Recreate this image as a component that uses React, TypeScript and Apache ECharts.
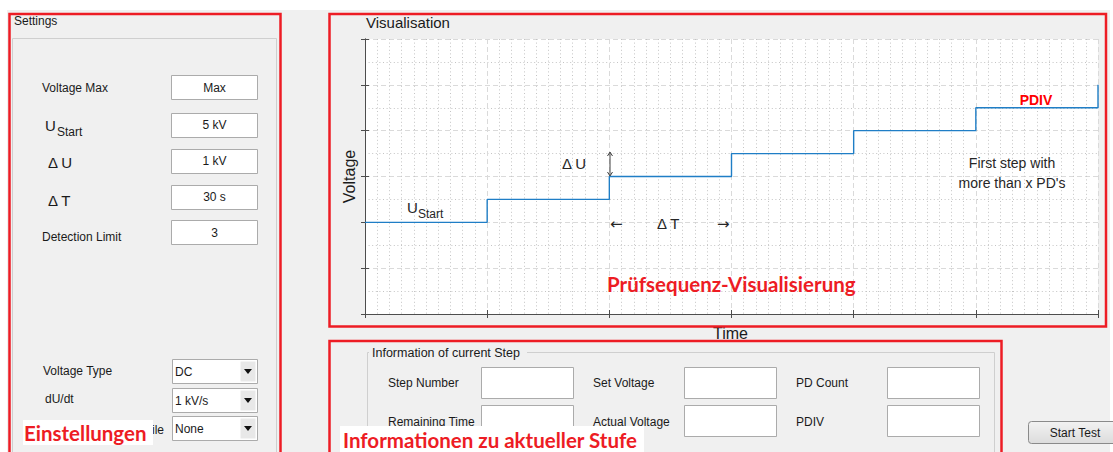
import React, { useEffect, useRef } from "react";
import * as echarts from "echarts";

// ---- data ----
const stepTimes = [0, 1, 2, 3, 4, 5, 6];
const stepLevels = [2, 2.5, 3, 3.5, 4, 4.5, 5];
const axisMin = 0;
const axisMax = 6;
const axisInterval = 1;

const settingsLabels = ["Voltage Max", "U", "Δ U", "Δ T", "Detection Limit"];
const settingsValues = ["Max", "5 kV", "1 kV", "30 s", "3"];
const dropdownLabels = ["Voltage Type", "dU/dt", "ile"];
const dropdownValues = ["DC", "1 kV/s", "None"];
const infoLabelsRow1 = ["Step Number", "Set Voltage", "PD Count"];
const infoLabelsRow2 = ["Remaining Time", "Actual Voltage", "PDIV"];

const RED = "#ed1c24";
const UI_FONT = "'Liberation Sans', Arial, sans-serif";
const RED_FONT = "bold 20.5px Lato, 'Open Sans', sans-serif";
const TXT = "#1a1a1a";

function txt(x: number, y: number, text: string, font: string, extra: any = {}) {
  return {
    type: "text",
    x,
    y,
    z: 50,
    style: {
      text,
      font,
      fill: extra.fill || TXT,
      align: extra.align || "left",
      verticalAlign: "middle",
    },
  };
}

function box(x: number, y: number, w: number, h: number, extra: any = {}) {
  return {
    type: "rect",
    z: extra.z ?? 40,
    shape: { x, y, width: w, height: h, r: extra.r || 0 },
    style: {
      fill: extra.fill ?? "#ffffff",
      stroke: extra.stroke ?? "#ababab",
      lineWidth: extra.lineWidth ?? 1,
    },
  };
}

function buildGraphics() {
  const els: any[] = [];
  const f12 = `12px ${UI_FONT}`;

  // ---------- left settings panel ----------
  els.push(txt(14, 21, "Settings", f12));
  els.push(box(12.5, 38.5, 264, 430, { fill: "none", stroke: "#cfcfcf", z: 30 }));
  const rowY = [87.5, 125, 161, 197, 232.5];
  const boxTop = [75, 113, 149, 185, 220];
  els.push(txt(42, rowY[0], settingsLabels[0], f12));
  els.push(txt(45, 125, settingsLabels[1], `15px ${UI_FONT}`));
  els.push(txt(57, 132, "Start", f12));
  els.push(txt(48, 162.5, settingsLabels[2], `15px ${UI_FONT}`));
  els.push(txt(48, 200, settingsLabels[3], `15px ${UI_FONT}`));
  els.push(txt(42, 237, settingsLabels[4], f12));
  settingsValues.forEach((v, i) => {
    els.push(box(171.5, boxTop[i] + 0.5, 86, 24));
    els.push(txt(214.5, rowY[i], v, f12, { align: "center" }));
  });

  // dropdowns
  const ddTop = [359, 388, 416];
  const ddLabelY = [370.5, 399, 430];
  dropdownLabels.forEach((l, i) => {
    if (i < 2) els.push(txt(i === 0 ? 43 : 45, ddLabelY[i], l, f12));
    else els.push(txt(164, ddLabelY[i], l, f12, { align: "right" }));
  });
  dropdownValues.forEach((v, i) => {
    const t = ddTop[i];
    els.push(box(172.5, t + 0.5, 85, 24));
    els.push(box(240.5, t + 2.5, 15, 20, { fill: "#e8e8e8", stroke: "none" }));
    els.push(txt(175, t + 13, v, f12));
    els.push({
      type: "polygon",
      z: 45,
      shape: { points: [[244, t + 10], [252, t + 10], [248, t + 15]] },
      style: { fill: "#111" },
    });
  });

  // ---------- chart panel ----------
  els.push(txt(366, 22, "Visualisation", `15px ${UI_FONT}`));
  els.push(txt(713, 333, "Time", `16px ${UI_FONT}`));

  // annotations in plot area
  els.push(txt(407, 207, "U", `15px ${UI_FONT}`, { fill: "#262626" }));
  els.push(txt(418, 214, "Start", `12px ${UI_FONT}`, { fill: "#262626" }));
  els.push(txt(562, 163, "Δ U", `15px ${UI_FONT}`, { fill: "#262626" }));
  els.push({
    type: "line",
    z: 50,
    shape: { x1: 610, y1: 153, x2: 610, y2: 175 },
    style: { stroke: "#404040", lineWidth: 1 },
  });
  els.push({
    type: "polyline",
    z: 50,
    shape: { points: [[607.5, 156], [610, 152], [612.5, 156]] },
    style: { stroke: "#404040", lineWidth: 1, fill: "none" },
  });
  els.push({
    type: "polyline",
    z: 50,
    shape: { points: [[607.5, 172], [610, 176], [612.5, 172]] },
    style: { stroke: "#404040", lineWidth: 1, fill: "none" },
  });
  els.push(txt(610, 224, "←", `15px 'DejaVu Sans', sans-serif`, { fill: "#262626" }));
  els.push(txt(657, 223, "Δ T", `15px ${UI_FONT}`, { fill: "#262626" }));
  els.push(txt(717, 224, "→", `15px 'DejaVu Sans', sans-serif`, { fill: "#262626" }));
  els.push(txt(1012, 163, "First step with", `14px ${UI_FONT}`, { align: "center", fill: "#262626" }));
  els.push(txt(1012, 183, "more than x PD's", `14px ${UI_FONT}`, { align: "center", fill: "#262626" }));
  els.push(txt(1036, 100, "PDIV", `bold 14px ${UI_FONT}`, { align: "center", fill: "#ff0000" }));
  els.push(txt(607, 284, "Prüfsequenz-Visualisierung", RED_FONT, { fill: RED }));

  // ---------- info panel ----------
  els.push({
    type: "polyline",
    z: 30,
    shape: { points: [[369, 352.5], [367.5, 352.5], [367.5, 470]] },
    style: { stroke: "#cfcfcf", lineWidth: 1, fill: "none" },
  });
  els.push({
    type: "polyline",
    z: 30,
    shape: { points: [[527, 352.5], [994.5, 352.5], [994.5, 470]] },
    style: { stroke: "#cfcfcf", lineWidth: 1, fill: "none" },
  });
  els.push(txt(372, 353, "Information of current Step", `12.5px ${UI_FONT}`));
  const labX = [388, 593, 796];
  const boxX = [481, 684, 887];
  infoLabelsRow1.forEach((l, i) => {
    els.push(txt(labX[i], 383, l, f12));
    els.push(box(boxX[i] + 0.5, 367.5, 92, 31));
  });
  infoLabelsRow2.forEach((l, i) => {
    els.push(txt(labX[i], 422, l, f12));
    els.push(box(boxX[i] + 0.5, 405.5, 92, 31));
  });

  // start button
  els.push({
    type: "rect",
    z: 40,
    shape: { x: 1028.5, y: 421.5, width: 100, height: 22, r: 3 },
    style: {
      fill: new echarts.graphic.LinearGradient(0, 0, 0, 1, [
        { offset: 0, color: "#f2f2f2" },
        { offset: 1, color: "#dcdcdc" },
      ]),
      stroke: "#8a8a8a",
      lineWidth: 1,
    },
  });
  els.push(txt(1075, 433, "Start Test", f12, { align: "center" }));

  // ---------- red highlight frames ----------
  const redFrame = (x: number, y: number, w: number, h: number) => ({
    type: "rect",
    z: 60,
    shape: { x, y, width: w, height: h },
    style: { fill: "none", stroke: RED, lineWidth: 2.5 },
  });
  els.push(redFrame(9.5, 14, 271, 470));
  els.push(redFrame(329.5, 14, 776.5, 312.5));
  els.push(redFrame(329.5, 341, 672, 150));

  // red labels with white background
  els.push(box(23, 420, 130, 25, { fill: "#ffffff", stroke: "none", z: 70 }));
  els.push({ ...txt(24, 433, "Einstellungen", RED_FONT, { fill: RED }), z: 71 });
  els.push(box(340, 426, 304, 30, { fill: "#ffffff", stroke: "none", z: 70 }));
  els.push({ ...txt(343, 440, "Informationen zu aktueller Stufe", RED_FONT, { fill: RED }), z: 71 });

  return els;
}

export default function App() {
  const ref = useRef<HTMLDivElement>(null);
  useEffect(() => {
    if (!ref.current) return;
    const chart = echarts.init(ref.current, undefined, { renderer: "svg" });
    const axisLine = { show: true, lineStyle: { color: "#4d4d4d", width: 1 } };
    const tick = { show: true, inside: true, length: 4, lineStyle: { color: "#4d4d4d" } };
    const majorSplit = { show: true, lineStyle: { color: "#dadada", type: [5, 3] as any, width: 1 } };
    const minorSplit = { show: true, lineStyle: { color: "#c4c4c4", type: [1, 2.6] as any, width: 1 } };
    const common = { type: "value", min: axisMin, max: axisMax, interval: axisInterval, axisLabel: { show: false } };
    chart.setOption({
      animation: false,
      grid: {
        left: 365,
        top: 39,
        width: 733,
        height: 275,
        show: true,
        backgroundColor: "#ffffff",
        borderWidth: 0,
      },
      xAxis: [
        {
          ...common,
          position: "bottom",
          axisLine,
          axisTick: tick,
          splitLine: majorSplit,
          minorTick: { show: false, splitNumber: 10 },
          minorSplitLine: minorSplit,
        },
        {
          ...common,
          position: "top",
          axisLine,
          axisTick: tick,
          splitLine: { show: false },
        },
      ],
      yAxis: [
        {
          ...common,
          position: "left",
          name: "Voltage",
          nameLocation: "middle",
          nameGap: 8,
          nameTextStyle: { fontFamily: UI_FONT, fontSize: 16, color: TXT },
          axisLine,
          axisTick: tick,
          splitLine: majorSplit,
          minorTick: { show: false, splitNumber: 2 },
          minorSplitLine: minorSplit,
        },
        {
          ...common,
          position: "right",
          axisLine,
          axisTick: tick,
          splitLine: { show: false },
        },
      ],
      series: [
        {
          type: "line",
          step: "end",
          xAxisIndex: 0,
          yAxisIndex: 0,
          symbol: "none",
          lineStyle: { color: "#1f7ec6", width: 1.4 },
          data: stepTimes.map((t, i) => [t, stepLevels[i]]),
          z: 5,
        },
      ],
      graphic: { elements: buildGraphics() },
    });
    return () => chart.dispose();
  }, []);

  return (
    <div
      style={{
        position: "fixed",
        left: 0,
        top: 0,
        width: 1113,
        height: 452,
        background: "#ffffff",
        overflow: "hidden",
      }}
    >
      <div
        style={{
          position: "absolute",
          left: 7,
          top: 10,
          width: 1103,
          height: 442,
          background: "#f0f0f0",
        }}
      />
      <div ref={ref} style={{ position: "absolute", left: 0, top: 0, width: 1113, height: 452 }} />
    </div>
  );
}
